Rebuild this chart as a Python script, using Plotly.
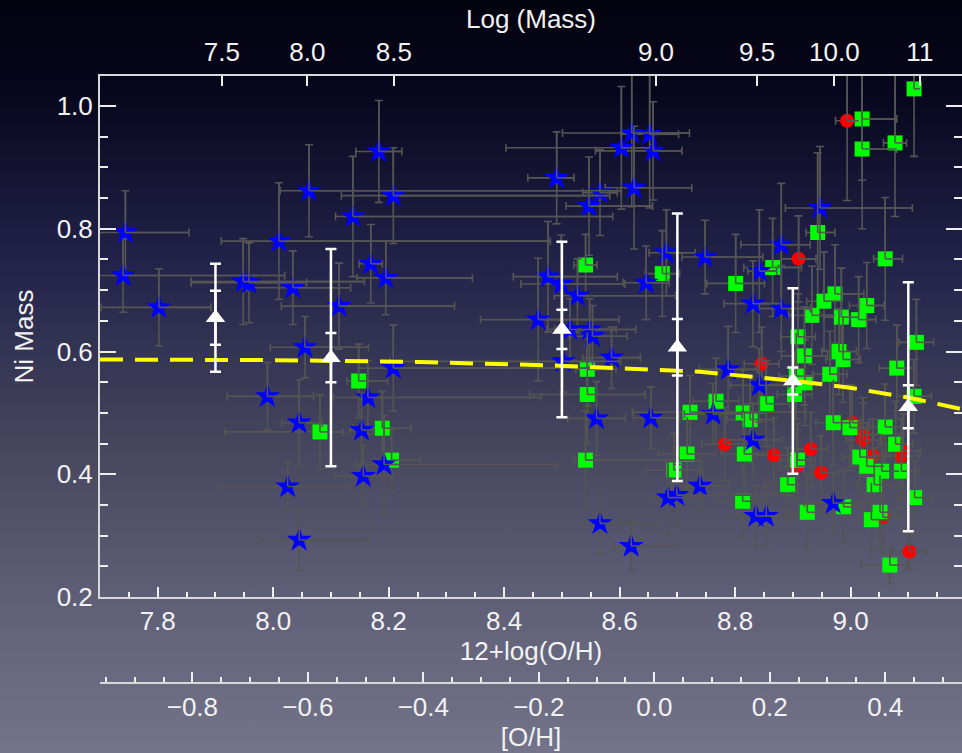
import base64
import plotly.graph_objects as go

# ---------------- data ----------------
# Blue stars
star_x = [7.744, 7.740, 7.802, 7.948, 7.958, 8.010, 8.034, 8.062, 8.114, 8.138, 8.169, 8.183,
          8.195, 8.208, 8.055, 7.990, 8.045, 8.025, 8.045, 8.153, 8.164, 8.156, 8.192, 8.208,
          8.491, 8.603, 8.621, 8.652, 8.658, 8.625, 8.566, 8.547, 8.476, 8.499, 8.527, 8.459,
          8.681, 8.646, 8.548, 8.553, 8.748, 8.502, 8.586, 8.560, 8.654, 8.566, 8.620, 8.684,
          8.699, 8.739, 8.947, 8.880, 8.842, 8.831, 8.880, 8.788, 8.842, 8.762, 8.831, 8.836,
          8.854, 8.970, 8.514]
star_y = [0.794, 0.724, 0.672, 0.714, 0.712, 0.780, 0.704, 0.862, 0.674, 0.820, 0.743, 0.926,
          0.720, 0.854, 0.607, 0.527, 0.484, 0.380, 0.293, 0.472, 0.525, 0.397, 0.416, 0.573,
          0.883, 0.932, 0.956, 0.954, 0.927, 0.867, 0.859, 0.837, 0.722, 0.710, 0.691, 0.652,
          0.761, 0.712, 0.636, 0.625, 0.754, 0.584, 0.590, 0.491, 0.492, 0.320, 0.283, 0.362,
          0.366, 0.381, 0.834, 0.774, 0.731, 0.678, 0.670, 0.571, 0.545, 0.498, 0.456, 0.332,
          0.332, 0.353, 0.636]
star_xlo = [0.05, 0.05, 0.10, 0.09, 0.10, 0.10, 0.08, 0.05, 0.10, 0.03, 0.02, 0.04,
            0.05, 0.09, 0.06, 0.07, 0.03, 0.12, 0.07, 0.02, 0.06, 0.05, 0.05, 0.06,
            0.05, 0.20, 0.12, 0.05, 0.10, 0.05, 0.03, 0.04, 0.06, 0.07, 0.04, 0.10,
            0.03, 0.04, 0.06, 0.04, 0.04, 0.30, 0.05, 0.05, 0.03, 0.03, 0.03, 0.03,
            0.02, 0.05, 0.06, 0.07, 0.02, 0.05, 0.05, 0.05, 0.05, 0.05, 0.05, 0.05,
            0.05, 0.05, 0.04]
star_xhi = [0.11, 0.28, 0.09, 0.21, 0.10, 0.47, 0.10, 0.54, 0.20, 0.45, 0.02, 0.04,
            0.15, 0.375, 0.11, 0.08, 0.04, 0.105, 0.12, 0.02, 0.30, 0.05, 0.30, 0.35,
            0.03, 0.05, 0.10, 0.05, 0.05, 0.10, 0.03, 0.11, 0.12, 0.11, 0.17, 0.14,
            0.05, 0.04, 0.08, 0.06, 0.10, 0.10, 0.05, 0.05, 0.05, 0.10, 0.08, 0.06,
            0.20, 0.05, 0.16, 0.05, 0.03, 0.05, 0.05, 0.05, 0.05, 0.05, 0.05, 0.05,
            0.05, 0.05, 0.08]
star_yerr = [0.068, 0.060, 0.063, 0.070, 0.065, 0.095, 0.060, 0.075, 0.070, 0.098, 0.064, 0.083,
             0.060, 0.078, 0.050, 0.055, 0.070, 0.040, 0.050, 0.060, 0.060, 0.050, 0.080, 0.070,
             0.075, 0.100, 0.120, 0.120, 0.080, 0.100, 0.070, 0.080, 0.090, 0.080, 0.060, 0.100,
             0.070, 0.060, 0.050, 0.050, 0.060, 0.050, 0.050, 0.060, 0.050, 0.050, 0.040, 0.060,
             0.050, 0.040, 0.100, 0.100, 0.100, 0.070, 0.070, 0.070, 0.060, 0.050, 0.060, 0.050,
             0.050, 0.050, 0.050]

# Green squares
sq_x = [8.148, 8.081, 8.189, 8.205, 8.541, 8.674, 8.544, 8.544, 8.541, 8.722, 8.717, 8.694,
        9.020, 9.020, 9.077, 9.110, 8.943, 9.060, 8.865, 8.801, 8.933, 8.954, 8.973, 8.984,
        9.014, 9.028, 8.909, 9.114, 8.920, 8.980, 8.987, 9.080, 8.964, 8.906, 8.921, 8.903,
        8.767, 8.854, 8.814, 8.826, 8.970, 8.999, 9.060, 9.078, 8.816, 8.908, 9.016, 9.028,
        9.054, 9.088, 8.891, 9.041, 8.813, 8.988, 8.925, 9.051, 9.036, 9.111, 9.068, 9.110]
sq_y = [0.552, 0.469, 0.475, 0.423, 0.741, 0.727, 0.571, 0.530, 0.423, 0.501, 0.433, 0.407,
        0.979, 0.930, 0.940, 1.028, 0.794, 0.751, 0.737, 0.711, 0.659, 0.682, 0.694, 0.656,
        0.652, 0.675, 0.624, 0.615, 0.593, 0.600, 0.587, 0.573, 0.563, 0.560, 0.549, 0.530,
        0.519, 0.515, 0.500, 0.489, 0.484, 0.476, 0.477, 0.449, 0.433, 0.423, 0.428, 0.413,
        0.405, 0.405, 0.383, 0.383, 0.356, 0.347, 0.338, 0.338, 0.326, 0.362, 0.252, 0.527]
sq_xlo = [0.02, 0.165, 0.05, 0.03, 0.02, 0.03, 0.02, 0.10, 0.02, 0.10, 0.05, 0.05,
          0.01, 0.01, 0.02, 0.01, 0.02, 0.02, 0.05, 0.05, 0.04, 0.03, 0.02, 0.03,
          0.03, 0.03, 0.03, 0.03, 0.04, 0.03, 0.03, 0.03, 0.03, 0.03, 0.03, 0.03,
          0.04, 0.04, 0.04, 0.04, 0.03, 0.03, 0.03, 0.03, 0.04, 0.03, 0.03, 0.03,
          0.03, 0.03, 0.04, 0.03, 0.04, 0.03, 0.03, 0.03, 0.03, 0.03, 0.05, 0.03]
sq_xhi = [0.05, 0.04, 0.05, 0.05, 0.02, 0.03, 0.05, 0.10, 0.20, 0.20, 0.05, 0.05,
          0.06, 0.06, 0.02, 0.01, 0.03, 0.03, 0.05, 0.05, 0.04, 0.03, 0.05, 0.03,
          0.03, 0.03, 0.03, 0.03, 0.04, 0.03, 0.03, 0.03, 0.03, 0.03, 0.03, 0.03,
          0.04, 0.04, 0.04, 0.04, 0.03, 0.03, 0.03, 0.03, 0.04, 0.03, 0.03, 0.03,
          0.03, 0.03, 0.04, 0.03, 0.04, 0.03, 0.03, 0.03, 0.03, 0.03, 0.03, 0.03]
sq_yerr = [0.060, 0.060, 0.060, 0.050, 0.050, 0.070, 0.060, 0.080, 0.080, 0.060, 0.060, 0.060,
           0.100, 0.130, 0.120, 0.110, 0.130, 0.100, 0.080, 0.080, 0.080, 0.080, 0.080, 0.080,
           0.070, 0.070, 0.070, 0.070, 0.080, 0.070, 0.070, 0.070, 0.070, 0.070, 0.070, 0.070,
           0.070, 0.070, 0.070, 0.070, 0.070, 0.070, 0.070, 0.070, 0.070, 0.060, 0.060, 0.060,
           0.060, 0.060, 0.060, 0.060, 0.060, 0.060, 0.060, 0.060, 0.060, 0.060, 0.030, 0.060]

# Red circles
rd_x = [8.994, 8.910, 8.846, 9.003, 9.022, 9.022, 9.091, 9.088, 8.782, 8.867, 8.931, 8.907,
        9.039, 8.949, 9.056, 9.102]
rd_y = [0.976, 0.751, 0.580, 0.484, 0.465, 0.456, 0.438, 0.430, 0.449, 0.431, 0.441, 0.413,
        0.430, 0.403, 0.330, 0.274]
rd_xlo = [0.02, 0.03, 0.03, 0.03, 0.03, 0.03, 0.03, 0.03, 0.04, 0.03, 0.03, 0.03,
          0.03, 0.03, 0.03, 0.03]
rd_xhi = [0.02, 0.03, 0.03, 0.03, 0.03, 0.03, 0.03, 0.03, 0.04, 0.03, 0.03, 0.03,
          0.03, 0.03, 0.03, 0.03]
rd_yerr = [0.130, 0.070, 0.060, 0.060, 0.060, 0.060, 0.060, 0.060, 0.060, 0.060, 0.060, 0.060,
           0.060, 0.060, 0.060, 0.030]

# Binned means (white triangles)
bin_x = [7.9, 8.1, 8.5, 8.7, 8.9, 9.1]
bin_y = [0.655, 0.590, 0.636, 0.607, 0.552, 0.510]
bin_std = [0.088, 0.177, 0.143, 0.218, 0.151, 0.203]
bin_sem = [0.044, 0.040, 0.032, 0.046, 0.022, 0.035]

# Yellow dashed model curve
curve_x = [7.70, 8.00, 8.253, 8.496, 8.739, 8.895, 8.999, 9.10, 9.193]
curve_y = [0.587, 0.586, 0.583, 0.577, 0.567, 0.553, 0.541, 0.525, 0.506]

# Top axis: Log (Mass) tick positions (in 12+log(O/H) units) and labels
mass_tickpos = [7.911, 8.059, 8.209, 8.663, 8.838, 8.972, 9.120]
mass_ticktext = ['7.5', '8.0', '8.5', '9.0', '9.5', '10.0', '11']

X_RANGE = [7.7, 9.193]
Y_RANGE = [0.2, 1.049]
SOLAR = 8.66

# ---------------- figure ----------------
FONT = 'Liberation Sans, Arial, Helvetica, sans-serif'
TXT = '#f2f2f2'
ERR = '#555555'

fig = go.Figure()


def add_group(x, y, xlo, xhi, yerr, symbol, color, size):
    fig.add_trace(go.Scatter(
        x=x, y=y, mode='markers', showlegend=False, hoverinfo='skip',
        marker=dict(symbol=symbol, color=color, size=size, line=dict(width=0)),
        error_x=dict(type='data', symmetric=False, array=xhi, arrayminus=xlo,
                     color=ERR, thickness=1.6, width=4),
        error_y=dict(type='data', array=yerr, color=ERR, thickness=1.6, width=4)))


def add_overlay(x, y, xhi, yerr):
    n = len(x)
    fig.add_trace(go.Scatter(
        x=x, y=y, mode='markers', showlegend=False, hoverinfo='skip',
        marker=dict(size=1, opacity=0),
        error_x=dict(type='data', symmetric=False, array=xhi, arrayminus=[0] * n,
                     color=ERR, thickness=1.6, width=0),
        error_y=dict(type='data', symmetric=False, array=yerr, arrayminus=[0] * n,
                     color=ERR, thickness=1.6, width=0)))


add_group(rd_x, rd_y, rd_xlo, rd_xhi, rd_yerr, 'circle', '#ff0000', 14)
add_group(sq_x, sq_y, sq_xlo, sq_xhi, sq_yerr, 'square', '#00ff00', 15)
add_group(star_x, star_y, star_xlo, star_xhi, star_yerr, 'star', '#0000ff', 19)
add_overlay(rd_x, rd_y, rd_xhi, rd_yerr)
add_overlay(sq_x, sq_y, sq_xhi, sq_yerr)
add_overlay(star_x, star_y, star_xhi, star_yerr)

fig.add_trace(go.Scatter(x=curve_x, y=curve_y, mode='lines', showlegend=False, hoverinfo='skip',
                         line=dict(color='#ffff00', width=4, dash='23px,12px')))

fig.add_trace(go.Scatter(x=bin_x, y=bin_y, mode='markers', showlegend=False, hoverinfo='skip',
                         marker=dict(size=1, opacity=0),
                         error_y=dict(type='data', array=bin_std, color='white', thickness=2.5, width=5.5)))
fig.add_trace(go.Scatter(x=bin_x, y=bin_y, mode='markers', showlegend=False, hoverinfo='skip',
                         marker=dict(symbol='triangle-up', size=17, color='white', line=dict(width=0)),
                         error_y=dict(type='data', array=bin_sem, color='white', thickness=2.5, width=5.5)))

# empty traces so that the extra axes (top mass axis, [O/H] axis, right ticks) are drawn
fig.add_trace(go.Scatter(x=[], y=[], xaxis='x2', yaxis='y', showlegend=False, hoverinfo='skip'))
fig.add_trace(go.Scatter(x=[], y=[], xaxis='x3', yaxis='y', showlegend=False, hoverinfo='skip'))
fig.add_trace(go.Scatter(x=[], y=[], xaxis='x', yaxis='y2', showlegend=False, hoverinfo='skip'))

# gradient background as an inline SVG image
svg = ("<svg xmlns='http://www.w3.org/2000/svg' width='962' height='753' preserveAspectRatio='none'>"
       "<defs><linearGradient id='g' x1='0' y1='0' x2='0' y2='1'>"
       "<stop offset='0' stop-color='#03020e'/>"
       "<stop offset='0.12' stop-color='#07061d'/>"
       "<stop offset='0.35' stop-color='#23234a'/>"
       "<stop offset='0.6' stop-color='#47475f'/>"
       "<stop offset='0.8' stop-color='#5f5f77'/>"
       "<stop offset='1' stop-color='#73738a'/>"
       "</linearGradient></defs><rect x='0' y='0' width='962' height='753' fill='url(#g)'/></svg>")
svg_uri = 'data:image/svg+xml;base64,' + base64.b64encode(svg.encode()).decode()

W, H = 962, 753
ML, MR, MT, MB = 100, 0, 76, 70
PW, PH = W - ML - MR, H - MT - MB
plot_bottom_px = 597
ydom0 = (H - MB - plot_bottom_px) / PH

fig.add_layout_image(dict(source=svg_uri, xref='paper', yref='paper',
                          x=-ML / PW, y=1 + MT / PH, sizex=W / PW, sizey=H / PH,
                          xanchor='left', yanchor='top', sizing='stretch', layer='below'))

tickfont = dict(family=FONT, size=26, color=TXT)
titlefont = dict(family=FONT, size=26, color=TXT)
common = dict(showgrid=False, zeroline=False, ticks='inside', tickcolor='#eeeeee', tickwidth=2,
              tickfont=tickfont)
line = dict(showline=True, linecolor='#d8d8d8', linewidth=2)

fig.update_layout(
    width=W, height=H,
    margin=dict(l=ML, r=MR, t=MT, b=MB, autoexpand=False),
    paper_bgcolor='rgba(0,0,0,0)', plot_bgcolor='rgba(0,0,0,0)',
    showlegend=False,
    xaxis=dict(**common, **line, domain=[0, 1], anchor='y', range=X_RANGE,
               tick0=7.8, dtick=0.2, tickformat='.1f', ticklen=10, ticklabelstandoff=0,
               minor=dict(ticks='inside', ticklen=5, tick0=7.7, dtick=0.05, tickcolor='#eeeeee', tickwidth=2),
               title=dict(text='12+log(O/H)', font=titlefont, standoff=2)),
    xaxis2=dict(**common, **line, overlaying='x', side='top', anchor='y', range=X_RANGE,
                tickmode='array', tickvals=mass_tickpos, ticktext=mass_ticktext, ticklen=10,
                ticklabelstandoff=3,
                title=dict(text='Log (Mass)', font=titlefont, standoff=0)),
    xaxis3=dict(**common, **line, overlaying='x', anchor='free', position=0, side='bottom',
                range=[X_RANGE[0] - SOLAR, X_RANGE[1] - SOLAR],
                tick0=0, dtick=0.2, tickformat='.1f', ticklen=10, ticklabelstandoff=1,
                minor=dict(ticks='inside', ticklen=5, tick0=0, dtick=0.05, tickcolor='#eeeeee', tickwidth=2),
                title=dict(text='[O/H]', font=titlefont, standoff=3)),
    yaxis=dict(**common, **line, domain=[ydom0, 1], anchor='x', range=Y_RANGE,
               tick0=0.2, dtick=0.2, tickformat='.1f', ticklen=16, ticklabelstandoff=0,
               minor=dict(ticks='inside', ticklen=8, tick0=0.2, dtick=0.05, tickcolor='#eeeeee', tickwidth=2),
               title=dict(text='Ni Mass', font=titlefont, standoff=16)),
    yaxis2=dict(**common, showline=False, overlaying='y', side='right', anchor='x', range=Y_RANGE,
                tick0=0.2, dtick=0.2, ticklen=16, showticklabels=False,
                minor=dict(ticks='inside', ticklen=8, tick0=0.2, dtick=0.05, tickcolor='#eeeeee', tickwidth=2)),
)

fig.write_html('out.html')
